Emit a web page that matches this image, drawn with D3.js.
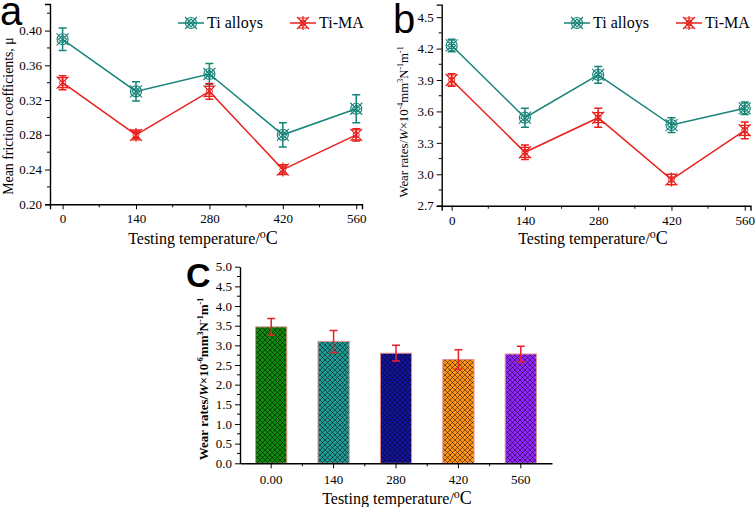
<!DOCTYPE html>
<html><head><meta charset="utf-8">
<script src="https://cdn.jsdelivr.net/npm/d3@7/dist/d3.min.js"></script>
<style>body{margin:0;background:#fff}svg{display:block}</style>
</head><body>
<svg id="c" width="756" height="507" font-family="Liberation Serif"></svg>
<script>
const temps = [0, 140, 280, 420, 560];
const seriesNames = ["Ti alloys", "Ti-MA"];
// Panel a: mean friction coefficients
const frictionTi = [0.39, 0.33, 0.35, 0.28, 0.31];
const frictionTiErr = [0.013, 0.011, 0.012, 0.014, 0.016];
const frictionMA = [0.34, 0.28, 0.33, 0.24, 0.28];
const frictionMAErr = [0.008, 0.004, 0.009, 0.004, 0.007];
const frictionTicks = [0.20, 0.24, 0.28, 0.32, 0.36, 0.40];
// Panel b: wear rates (x10^-4)
const wearTi = [4.23, 3.54, 3.95, 3.47, 3.63];
const wearTiErr = [0.06, 0.09, 0.08, 0.07, 0.06];
const wearMA = [3.90, 3.21, 3.54, 2.95, 3.42];
const wearMAErr = [0.06, 0.07, 0.09, 0.05, 0.08];
const wearTicks = [2.7, 3.0, 3.3, 3.6, 3.9, 4.2, 4.5];
// Panel c: wear rates (x10^-6)
const barLabels = ["0.00", "140", "280", "420", "560"];
const barValues = [3.47, 3.10, 2.80, 2.64, 2.78];
const barErr = [0.21, 0.28, 0.20, 0.25, 0.20];
const barTicks = [0.0, 0.5, 1.0, 1.5, 2.0, 2.5, 3.0, 3.5, 4.0, 4.5, 5.0];
const barColors = ["#0f8a0f", "#1f9a94", "#14149c", "#ff9414", "#9426ff"];

const colTi = "#168478", colMA = "#e8201c";
const svg = d3.select("#c");
const SERIF = "Liberation Serif";

const defs = svg.append("defs");
barColors.forEach((c, i) => {
  const p = defs.append("pattern").attr("id", "h" + i).attr("patternUnits", "userSpaceOnUse")
    .attr("width", 5).attr("height", 5);
  p.append("rect").attr("width", 5).attr("height", 5).attr("fill", c);
  p.append("path").attr("d", "M0,0L5,5M5,0L0,5").attr("stroke", "rgba(0,0,0,0.55)").attr("stroke-width", 0.9);
});

function markerTi(g, x, y, col) {
  g.append("circle").attr("cx", x).attr("cy", y).attr("r", 5.5).attr("fill", "none").attr("stroke", col).attr("stroke-width", 1.2);
  g.append("path").attr("d", `M${x-6},${y-6}L${x+6},${y+6}M${x+6},${y-6}L${x-6},${y+6}M${x},${y-4}L${x+4},${y}L${x},${y+4}L${x-4},${y}Z`)
    .attr("fill", "none").attr("stroke", col).attr("stroke-width", 1.1);
}
function markerMA(g, x, y, col) {
  g.append("path").attr("d", `M${x-6},${y-6}L${x+6},${y+6}M${x+6},${y-6}L${x-6},${y+6}M${x-5},${y-5}L${x+5},${y-5}M${x-5},${y+5}L${x+5},${y+5}M${x},${y-7}L${x},${y+7}`)
    .attr("fill", "none").attr("stroke", col).attr("stroke-width", 1.2);
  g.append("circle").attr("cx", x).attr("cy", y).attr("r", 3).attr("fill", "none").attr("stroke", col).attr("stroke-width", 1);
}

function addTempTitle(g, x, y) {
  const xt = g.append("text").attr("x", x).attr("y", y).attr("text-anchor", "middle").attr("font-size", 16).attr("font-family", SERIF);
  xt.append("tspan").text("Testing temperature/");
  xt.append("tspan").attr("font-size", 12).attr("dy", -6).text("o");
  xt.append("tspan").attr("font-size", 18).attr("dy", 6).text("C");
}
function addWearTitle(g, tx, ty, size, exp, bold) {
  const t = g.append("text").attr("transform", `translate(${tx},${ty}) rotate(-90)`).attr("text-anchor", "middle")
    .attr("font-size", size).attr("font-family", SERIF).attr("font-weight", bold ? "bold" : "normal");
  const s = size * 0.62;
  t.append("tspan").text("Wear rates/");
  t.append("tspan").attr("font-style", "italic").text("W");
  t.append("tspan").text("×10");
  t.append("tspan").attr("font-size", s).attr("dy", -5).text(exp);
  t.append("tspan").attr("dy", 5).text("mm");
  t.append("tspan").attr("font-size", s).attr("dy", -5).text("3");
  t.append("tspan").attr("dy", 5).text("N");
  t.append("tspan").attr("font-size", s).attr("dy", -5).text("-1");
  t.append("tspan").attr("dy", 5).text("m");
  t.append("tspan").attr("font-size", s).attr("dy", -5).text("-1");
}

function linePanel(opt) {
  const g = svg.append("g");
  const x = d3.scaleLinear().domain(opt.xdom).range([opt.x0, opt.x1]);
  const y = d3.scaleLinear().domain(opt.ydom).range([opt.y0, opt.y1]);
  const xa = d3.axisBottom(x).tickValues(temps).tickSize(5).tickFormat(d3.format("d"));
  const gx = g.append("g").attr("transform", `translate(0,${opt.y0})`).call(xa);
  const minorX = temps.slice(0, -1).map(t => t + 70);
  gx.selectAll(".minor").data(minorX).enter().append("line").attr("x1", d => x(d)).attr("x2", d => x(d)).attr("y1", 0).attr("y2", 3).attr("stroke", "#000");
  const ya = d3.axisLeft(y).tickValues(opt.yticks).tickSize(5).tickFormat(opt.yfmt);
  const gy = g.append("g").attr("transform", `translate(${opt.x0},0)`).call(ya);
  gy.selectAll(".minor").data(opt.yminor).enter().append("line").attr("y1", d => y(d)).attr("y2", d => y(d)).attr("x1", 0).attr("x2", -3).attr("stroke", "#000");
  [gx, gy].forEach(a => {
    a.attr("font-family", SERIF);
    a.select(".domain").attr("stroke", "#000").attr("stroke-width", 1.4);
    a.selectAll("text").attr("font-size", 13).attr("fill", "#000");
  });
  gx.selectAll(".tick text").attr("dy", "0.85em");
  const sets = [[opt.ti, opt.tiErr, colTi, markerTi], [opt.ma, opt.maErr, colMA, markerMA]];
  sets.forEach(([vals, errs, col, mk]) => {
    const line = d3.line().x((d, i) => x(temps[i])).y(d => y(d));
    g.append("path").attr("d", line(vals)).attr("fill", "none").attr("stroke", col).attr("stroke-width", 1.5);
    vals.forEach((v, i) => {
      const cx = x(temps[i]), yt = y(v + errs[i]), yb = y(v - errs[i]);
      g.append("path").attr("d", `M${cx},${yt}L${cx},${yb}M${cx-4},${yt}L${cx+4},${yt}M${cx-4},${yb}L${cx+4},${yb}`)
        .attr("stroke", col).attr("stroke-width", 1.5).attr("fill", "none");
      mk(g, cx, y(v), col);
    });
  });
  const lg = [[opt.lx1, colTi, markerTi, seriesNames[0]], [opt.lx2, colMA, markerMA, seriesNames[1]]];
  lg.forEach(([lx, col, mk, name]) => {
    g.append("line").attr("x1", lx).attr("x2", lx + 26).attr("y1", 23).attr("y2", 23).attr("stroke", col).attr("stroke-width", 1.5);
    mk(g, lx + 13, 23, col);
    g.append("text").attr("x", lx + 29).attr("y", 28).attr("font-size", 16).attr("font-family", SERIF).text(name);
  });
  addTempTitle(g, opt.xtx, 244);
  g.append("text").attr("x", opt.lblx).attr("y", opt.lbly).attr("font-family", "Liberation Sans").attr("font-size", 40).text(opt.lbl);
  return g;
}

// Panel a
const ga = linePanel({
  xdom: [-24, 571], x0: 50, x1: 362, ydom: [0.20, 0.4306], y0: 204.3, y1: 4,
  yticks: frictionTicks, yminor: [0.22, 0.26, 0.30, 0.34, 0.38, 0.42], yfmt: d3.format(".2f"),
  ti: frictionTi, tiErr: frictionTiErr, ma: frictionMA, maErr: frictionMAErr,
  lx1: 178, lx2: 290, xtx: 203, lbl: "a", lblx: 0, lbly: 25
});
ga.append("text").attr("transform", "translate(13,116) rotate(-90)").attr("text-anchor", "middle")
  .attr("font-size", 13.8).attr("font-family", SERIF).text("Mean friction coefficients, μ");

// Panel b
const gb = linePanel({
  xdom: [-19, 571], x0: 441.7, x1: 750.5, ydom: [2.7, 4.62], y0: 205.7, y1: 4.6,
  yticks: wearTicks, yminor: [2.85, 3.15, 3.45, 3.75, 4.05, 4.35], yfmt: d3.format(".1f"),
  ti: wearTi, tiErr: wearTiErr, ma: wearMA, maErr: wearMAErr,
  lx1: 564, lx2: 676, xtx: 593, lbl: "b", lblx: 393, lbly: 33
});
addWearTitle(gb, 408, 122, 12.8, "-4", false);

// Panel c
{
  const g = svg.append("g");
  const x = d3.scaleBand().domain(barLabels).range([240, 552]).paddingInner(0.5).paddingOuter(0.25);
  const y = d3.scaleLinear().domain([0, 5]).range([463.3, 266.7]);
  g.selectAll(".bar").data(barValues).enter().append("rect")
    .attr("x", (d, i) => x(barLabels[i])).attr("width", x.bandwidth())
    .attr("y", d => y(d)).attr("height", d => y(0) - y(d))
    .attr("fill", (d, i) => `url(#h${i})`).attr("stroke", "#e89090").attr("stroke-width", 1);
  barValues.forEach((v, i) => {
    const cx = x(barLabels[i]) + x.bandwidth() / 2, yt = y(v + barErr[i]), yb = y(v - barErr[i]);
    g.append("path").attr("d", `M${cx},${yt}L${cx},${yb}M${cx-4},${yt}L${cx+4},${yt}M${cx-4},${yb}L${cx+4},${yb}`)
      .attr("stroke", "#e8202a").attr("stroke-width", 1.5).attr("fill", "none");
  });
  const gx = g.append("g").attr("transform", "translate(0,463.3)").call(d3.axisBottom(x).tickSize(5).tickSizeOuter(0));
  const steps = x.step();
  const minor = barLabels.slice(0, -1).map(l => x(l) + x.bandwidth() / 2 + steps / 2);
  gx.selectAll(".minor").data(minor).enter().append("line").attr("x1", d => d).attr("x2", d => d).attr("y1", 0).attr("y2", 3).attr("stroke", "#000");
  gx.selectAll(".tick text").attr("dy", "0.95em");
  const gy = g.append("g").attr("transform", "translate(240,0)").call(d3.axisLeft(y).tickValues(barTicks).tickSize(5).tickSizeOuter(0).tickFormat(d3.format(".1f")));
  gy.selectAll(".minor").data(barTicks.slice(0, -1).map(t => t + 0.25)).enter().append("line").attr("y1", d => y(d)).attr("y2", d => y(d)).attr("x1", 0).attr("x2", -3).attr("stroke", "#000");
  [gx, gy].forEach(a => {
    a.attr("font-family", SERIF);
    a.select(".domain").attr("stroke", "#000").attr("stroke-width", 1.4);
    a.selectAll("text").attr("font-size", 13).attr("fill", "#000");
  });
  addTempTitle(g, 397, 504);
  addWearTitle(g, 208, 379, 13, "-6", true);
  g.append("text").attr("x", 186).attr("y", 287).attr("font-family", "Liberation Sans").attr("font-weight", "bold").attr("font-size", 34).text("C");
}
</script>
</body></html>
